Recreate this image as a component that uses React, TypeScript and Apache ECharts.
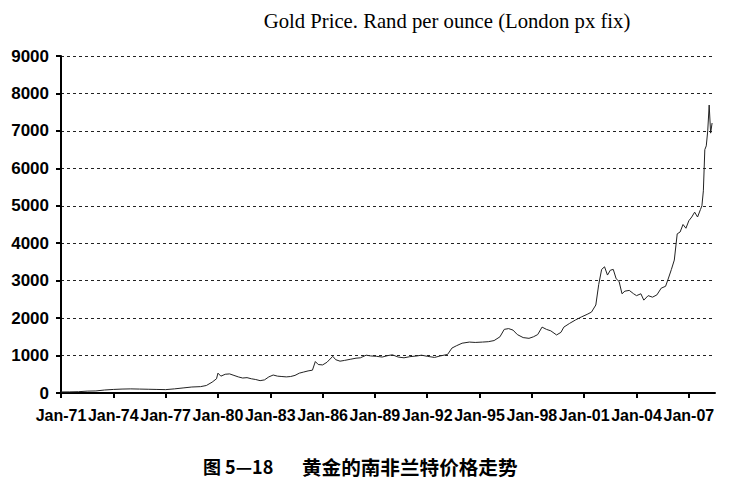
import React, { useEffect, useRef } from "react";
import * as echarts from "echarts";

const titleText = "Gold Price. Rand per ounce (London px fix)";
const captionLabel = "图 5—18";
const captionText = "黄金的南非兰特价格走势";

const yTicks = [0, 1000, 2000, 3000, 4000, 5000, 6000, 7000, 8000, 9000];
const xTickYears = [1971, 1974, 1977, 1980, 1983, 1986, 1989, 1992, 1995, 1998, 2001, 2004, 2007];

const dates = [
  "1971-01", "1971-07", "1972-01", "1972-07", "1973-01", "1973-07", "1974-01", "1974-07",
  "1975-01", "1975-07", "1976-01", "1976-07", "1977-01", "1977-07", "1978-01", "1978-07",
  "1979-01", "1979-05", "1979-09", "1979-12", "1980-01", "1980-03", "1980-06", "1980-09",
  "1980-12", "1981-03", "1981-06", "1981-09", "1981-12", "1982-03", "1982-06", "1982-09",
  "1982-12", "1983-03", "1983-06", "1983-09", "1983-12", "1984-03", "1984-06", "1984-09",
  "1984-12", "1985-03", "1985-06", "1985-08", "1985-10", "1986-01", "1986-04", "1986-08",
  "1986-10", "1987-01", "1987-04", "1987-08", "1987-12", "1988-03", "1988-07", "1988-10",
  "1989-02", "1989-06", "1989-10", "1990-01", "1990-05", "1990-09", "1991-01", "1991-06",
  "1991-09", "1992-01", "1992-06", "1992-10", "1993-03", "1993-06", "1993-09", "1994-01",
  "1994-06", "1994-10", "1995-03", "1995-07", "1995-11", "1996-03", "1996-06", "1996-09",
  "1996-12", "1997-03", "1997-07", "1997-11", "1998-02", "1998-05", "1998-08", "1998-11",
  "1999-02", "1999-06", "1999-09", "1999-11", "2000-03", "2000-07", "2000-11", "2001-03",
  "2001-06", "2001-09", "2001-11", "2002-01", "2002-03", "2002-05", "2002-07", "2002-09",
  "2002-11", "2003-01", "2003-03", "2003-05", "2003-08", "2003-11", "2004-01", "2004-04",
  "2004-06", "2004-09", "2004-12", "2005-03", "2005-06", "2005-09", "2005-11", "2006-01",
  "2006-03", "2006-05", "2006-07", "2006-09", "2006-11", "2007-01", "2007-03", "2007-05",
  "2007-07", "2007-09", "2007-10", "2007-11", "2007-12", "2008-01", "2008-02", "2008-03",
  "2008-04", "2008-05",
];

const values = [
  28, 30, 35, 50, 55, 80, 95, 105,
  110, 105, 100, 95, 90, 110, 135, 160,
  170, 200, 290, 380, 530, 450, 500, 510,
  470, 430, 400, 410, 380, 360, 330, 350,
  430, 480, 450, 440, 430, 440, 470, 530,
  560, 590, 610, 840, 760, 750, 820, 980,
  890, 850, 870, 900, 930, 940, 1010, 990,
  980, 960, 1000, 1020, 960, 940, 970, 990,
  1010, 980, 950, 990, 1030, 1200, 1260, 1330,
  1360, 1350, 1360, 1370, 1400, 1500, 1700, 1720,
  1680, 1560, 1480, 1460, 1500, 1560, 1760, 1700,
  1660, 1550, 1620, 1760, 1860, 1950, 2030, 2100,
  2160, 2350, 2900, 3300, 3370, 3150, 3280, 3300,
  3050, 2980, 2650, 2720, 2740, 2650, 2600, 2650,
  2480, 2600, 2560, 2620, 2800, 2850, 3070, 3300,
  3550, 4250, 4300, 4500, 4400, 4600, 4700, 4830,
  4700, 4900, 5000, 5400, 6500, 6600, 7000, 7690,
  6940, 7210,
];

function toYear(d: string): number {
  const [y, m] = d.split("-").map(Number);
  return y + (m - 1) / 12;
}

export default function App() {
  const ref = useRef<HTMLDivElement>(null);
  useEffect(() => {
    if (!ref.current) return;
    const chart = echarts.init(ref.current, undefined, { renderer: "svg" });
    const data = dates.map((d, i) => [toYear(d), values[i]]);
    chart.setOption({
      animation: false,
      backgroundColor: "#ffffff",
      grid: { left: 61, right: 27, top: 56, bottom: 91, containLabel: false },
      xAxis: {
        type: "value",
        min: 1971,
        max: 2008.5,
        interval: 3,
        axisLine: { show: true, lineStyle: { color: "#000", width: 2 } },
        axisTick: { show: true, length: 5, lineStyle: { color: "#000", width: 2 }, customValues: xTickYears },
        axisLabel: {
          customValues: xTickYears,
          color: "#000",
          fontSize: 16,
          fontWeight: "bold",
          fontFamily: "'Liberation Sans Narrow', 'Liberation Sans', sans-serif",
          margin: 14,
          formatter: (v: number) => "Jan-" + String(Math.round(v) % 100).padStart(2, "0"),
        },
        splitLine: { show: false },
      },
      yAxis: {
        type: "value",
        min: yTicks[0],
        max: yTicks[yTicks.length - 1],
        interval: 1000,
        axisLine: { show: true, lineStyle: { color: "#000", width: 2 } },
        axisTick: { show: true, length: 5, lineStyle: { color: "#000", width: 2 } },
        axisLabel: {
          color: "#000",
          fontSize: 17,
          fontWeight: "bold",
          fontFamily: "'Liberation Sans', Arial, sans-serif",
          margin: 12,
          formatter: (v: number) => String(v),
        },
        splitLine: { show: true, lineStyle: { color: "#222", width: 1, type: [3, 3] } },
      },
      series: [
        {
          type: "line",
          data,
          showSymbol: false,
          lineStyle: { color: "#222", width: 1 },
          z: 3,
        },
      ],
      graphic: [
        {
          type: "text",
          x: 447,
          y: 21,
          style: {
            text: titleText,
            fill: "#000",
            align: "center",
            verticalAlign: "middle",
            font: "20.7px 'Liberation Serif', 'Times New Roman', serif",
          },
        },
        {
          type: "text",
          x: 203,
          y: 466,
          style: {
            text: captionLabel,
            fill: "#000",
            align: "left",
            verticalAlign: "middle",
            font: "bold 18px 'Noto Sans CJK SC', sans-serif",
          },
        },
        {
          type: "text",
          x: 302,
          y: 466,
          style: {
            text: captionText,
            fill: "#000",
            align: "left",
            verticalAlign: "middle",
            font: "bold 19.6px 'Noto Sans CJK SC', sans-serif",
          },
        },
      ],
    });
    return () => chart.dispose();
  }, []);
  return (
    <div
      ref={ref}
      style={{ position: "fixed", left: 0, top: 0, width: 742, height: 484, background: "#fff" }}
    />
  );
}
